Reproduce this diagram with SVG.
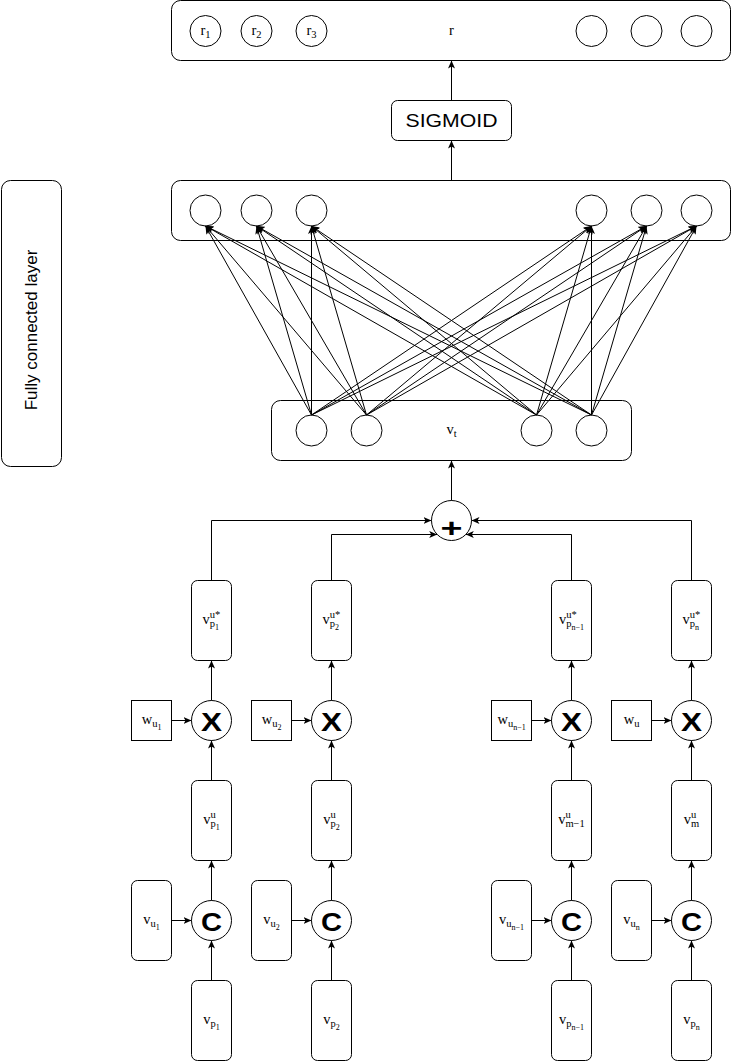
<svg xmlns="http://www.w3.org/2000/svg" width="738" height="1062" viewBox="0 0 738 1062">
  <defs>
    <marker id="ah" markerWidth="10" markerHeight="8" refX="8" refY="3.5" orient="auto" markerUnits="userSpaceOnUse">
      <path d="M0,0 L8,3.5 L0,7 L2,3.5 Z" fill="#000"/>
    </marker>
    <style>
      .box { fill: #fff; stroke: #000; stroke-width: 1; }
      .node { fill: #fff; stroke: #000; stroke-width: 1; }
      .edge { fill: none; stroke: #000; stroke-width: 1; marker-end: url(#ah); }
      .m { font-family: "Liberation Serif", "Times New Roman", serif; font-size: 14.5px; fill: #000; }
      .s { font-size: 10.5px; }
      .ss { font-size: 8px; }
      .sans { font-family: "Liberation Sans", Arial, Helvetica, sans-serif; fill: #000; }
      .op { font-family: "Liberation Sans", Arial, Helvetica, sans-serif; font-weight: bold; font-size: 25px; text-anchor: middle; fill: #000; }
    </style>
  </defs>

  <!-- side label -->
  <g id="fc-label">
    <rect class="box" x="1.5" y="180.5" width="60" height="286" rx="9"/>
    <text class="sans" x="36.5" y="330" font-size="17" text-anchor="middle" transform="rotate(-90 36.5 330)">Fully connected layer</text>
  </g>

  <!-- output layer r -->
  <g id="output">
    <rect class="box" x="171.5" y="0.5" width="559" height="60" rx="9"/>
    <circle class="node" cx="205.5" cy="31" r="15.5"/>
    <circle class="node" cx="256.5" cy="31" r="15.5"/>
    <circle class="node" cx="311.5" cy="31" r="15.5"/>
    <circle class="node" cx="591.5" cy="31" r="15.5"/>
    <circle class="node" cx="646.5" cy="31" r="15.5"/>
    <circle class="node" cx="696.5" cy="31" r="15.5"/>
    <text class="m" x="200.5" y="35">r<tspan class="s" y="38">1</tspan></text>
    <text class="m" x="251.5" y="35">r<tspan class="s" y="38">2</tspan></text>
    <text class="m" x="306.5" y="35">r<tspan class="s" y="38">3</tspan></text>
    <text class="m" x="449.1" y="35">r</text>
  </g>

  <!-- sigmoid -->
  <g id="sigmoid">
    <rect class="box" x="391.5" y="100.5" width="120" height="40" rx="6"/>
    <text class="sans" x="451.5" y="126.5" font-size="18.5" text-anchor="middle" textLength="92" lengthAdjust="spacingAndGlyphs">SIGMOID</text>
  </g>

  <!-- fully connected layer -->
  <g id="fc">
    <rect class="box" x="171.5" y="180.5" width="559" height="60" rx="9"/>
    <circle class="node" cx="205.5" cy="210.5" r="15.5"/>
    <circle class="node" cx="256.5" cy="210.5" r="15.5"/>
    <circle class="node" cx="311.5" cy="210.5" r="15.5"/>
    <circle class="node" cx="591.5" cy="210.5" r="15.5"/>
    <circle class="node" cx="646.5" cy="210.5" r="15.5"/>
    <circle class="node" cx="696.5" cy="210.5" r="15.5"/>
  </g>

  <!-- v_t layer -->
  <g id="vt">
    <rect class="box" x="271.5" y="400.5" width="360" height="60" rx="9"/>
    <circle class="node" cx="311.5" cy="430.5" r="15.5"/>
    <circle class="node" cx="366.5" cy="430.5" r="15.5"/>
    <circle class="node" cx="536.5" cy="430.5" r="15.5"/>
    <circle class="node" cx="591.5" cy="430.5" r="15.5"/>
    <text class="m" x="446.4" y="433.5">v<tspan class="s" y="437">t</tspan></text>
  </g>

  <!-- sum -->
  <g id="sum">
    <circle class="node" cx="451.5" cy="520.5" r="20"/>
    <text class="op" x="451.5" y="536.5" font-size="38" textLength="22" lengthAdjust="spacingAndGlyphs">+</text>
  </g>

  <!-- column 1 -->
  <g id="col1-vpstar">
    <rect class="box" x="191.5" y="580.5" width="40" height="80" rx="6"/>
    <text class="m" x="202.6" y="623.5">v<tspan class="s" x="209.85" y="618">u*</tspan><tspan class="s" x="209.85" y="627">p</tspan><tspan class="ss" y="630">1</tspan></text>
  </g>
  <g id="col1-w">
    <rect class="box" x="131.5" y="700.5" width="40" height="40"/>
    <text class="m" x="141.65" y="723.5">w<tspan class="s" y="727">u</tspan><tspan class="ss" y="730">1</tspan></text>
  </g>
  <g id="col1-mul">
    <circle class="node" cx="211.5" cy="720.5" r="20"/>
    <text class="op" x="211.5" y="731" textLength="21" lengthAdjust="spacingAndGlyphs">X</text>
  </g>
  <g id="col1-vpu">
    <rect class="box" x="191.5" y="780.5" width="40" height="80" rx="6"/>
    <text class="m" x="203.25" y="823.5">v<tspan class="s" x="210.5" y="818">u</tspan><tspan class="s" x="210.5" y="827">p</tspan><tspan class="ss" y="830">1</tspan></text>
  </g>
  <g id="col1-concat">
    <circle class="node" cx="211.5" cy="920.5" r="20"/>
    <text class="op" x="211.5" y="931" textLength="21" lengthAdjust="spacingAndGlyphs">C</text>
  </g>
  <g id="col1-vu">
    <rect class="box" x="131.5" y="880.5" width="40" height="80" rx="6"/>
    <text class="m" x="143.25" y="923.5">v<tspan class="s" y="927">u</tspan><tspan class="ss" y="930">1</tspan></text>
  </g>
  <g id="col1-vp">
    <rect class="box" x="191.5" y="980.5" width="40" height="80" rx="6"/>
    <text class="m" x="203.25" y="1023.5">v<tspan class="s" y="1027">p</tspan><tspan class="ss" y="1030">1</tspan></text>
  </g>

  <!-- column 2 -->
  <g id="col2-vpstar">
    <rect class="box" x="311.5" y="580.5" width="40" height="80" rx="6"/>
    <text class="m" x="322.6" y="623.5">v<tspan class="s" x="329.85" y="618">u*</tspan><tspan class="s" x="329.85" y="627">p</tspan><tspan class="ss" y="630">2</tspan></text>
  </g>
  <g id="col2-w">
    <rect class="box" x="251.5" y="700.5" width="40" height="40"/>
    <text class="m" x="261.65" y="723.5">w<tspan class="s" y="727">u</tspan><tspan class="ss" y="730">2</tspan></text>
  </g>
  <g id="col2-mul">
    <circle class="node" cx="331.5" cy="720.5" r="20"/>
    <text class="op" x="331.5" y="731" textLength="21" lengthAdjust="spacingAndGlyphs">X</text>
  </g>
  <g id="col2-vpu">
    <rect class="box" x="311.5" y="780.5" width="40" height="80" rx="6"/>
    <text class="m" x="323.25" y="823.5">v<tspan class="s" x="330.5" y="818">u</tspan><tspan class="s" x="330.5" y="827">p</tspan><tspan class="ss" y="830">2</tspan></text>
  </g>
  <g id="col2-concat">
    <circle class="node" cx="331.5" cy="920.5" r="20"/>
    <text class="op" x="331.5" y="931" textLength="21" lengthAdjust="spacingAndGlyphs">C</text>
  </g>
  <g id="col2-vu">
    <rect class="box" x="251.5" y="880.5" width="40" height="80" rx="6"/>
    <text class="m" x="263.25" y="923.5">v<tspan class="s" y="927">u</tspan><tspan class="ss" y="930">2</tspan></text>
  </g>
  <g id="col2-vp">
    <rect class="box" x="311.5" y="980.5" width="40" height="80" rx="6"/>
    <text class="m" x="323.25" y="1023.5">v<tspan class="s" y="1027">p</tspan><tspan class="ss" y="1030">2</tspan></text>
  </g>

  <!-- column n-1 -->
  <g id="col3-vpstar">
    <rect class="box" x="551.5" y="580.5" width="40" height="80" rx="6"/>
    <text class="m" x="559" y="623.5">v<tspan class="s" x="566.25" y="618">u*</tspan><tspan class="s" x="566.25" y="627">p</tspan><tspan class="ss" y="630">n−1</tspan></text>
  </g>
  <g id="col3-w">
    <rect class="box" x="491.5" y="700.5" width="40" height="40"/>
    <text class="m" x="497.4" y="723.5">w<tspan class="s" y="727">u</tspan><tspan class="ss" y="730">n−1</tspan></text>
  </g>
  <g id="col3-mul">
    <circle class="node" cx="571.5" cy="720.5" r="20"/>
    <text class="op" x="571.5" y="731" textLength="21" lengthAdjust="spacingAndGlyphs">X</text>
  </g>
  <g id="col3-vpu">
    <rect class="box" x="551.5" y="780.5" width="40" height="80" rx="6"/>
    <text class="m" x="558.2" y="823.5">v<tspan class="s" x="565.45" y="818">u</tspan><tspan class="s" x="565.45" y="827">m−1</tspan></text>
  </g>
  <g id="col3-concat">
    <circle class="node" cx="571.5" cy="920.5" r="20"/>
    <text class="op" x="571.5" y="931" textLength="21" lengthAdjust="spacingAndGlyphs">C</text>
  </g>
  <g id="col3-vu">
    <rect class="box" x="491.5" y="880.5" width="40" height="80" rx="6"/>
    <text class="m" x="499" y="923.5">v<tspan class="s" y="927">u</tspan><tspan class="ss" y="930">n−1</tspan></text>
  </g>
  <g id="col3-vp">
    <rect class="box" x="551.5" y="980.5" width="40" height="80" rx="6"/>
    <text class="m" x="559" y="1023.5">v<tspan class="s" y="1027">p</tspan><tspan class="ss" y="1030">n−1</tspan></text>
  </g>

  <!-- column n -->
  <g id="col4-vpstar">
    <rect class="box" x="671.5" y="580.5" width="40" height="80" rx="6"/>
    <text class="m" x="682.6" y="623.5">v<tspan class="s" x="689.85" y="618">u*</tspan><tspan class="s" x="689.85" y="627">p</tspan><tspan class="ss" y="630">n</tspan></text>
  </g>
  <g id="col4-w">
    <rect class="box" x="611.5" y="700.5" width="40" height="40"/>
    <text class="m" x="623.65" y="723.5">w<tspan class="s" y="727">u</tspan></text>
  </g>
  <g id="col4-mul">
    <circle class="node" cx="691.5" cy="720.5" r="20"/>
    <text class="op" x="691.5" y="731" textLength="21" lengthAdjust="spacingAndGlyphs">X</text>
  </g>
  <g id="col4-vpu">
    <rect class="box" x="671.5" y="780.5" width="40" height="80" rx="6"/>
    <text class="m" x="683.8" y="823.5">v<tspan class="s" x="691.05" y="818">u</tspan><tspan class="s" x="691.05" y="827">m</tspan></text>
  </g>
  <g id="col4-concat">
    <circle class="node" cx="691.5" cy="920.5" r="20"/>
    <text class="op" x="691.5" y="931" textLength="21" lengthAdjust="spacingAndGlyphs">C</text>
  </g>
  <g id="col4-vu">
    <rect class="box" x="611.5" y="880.5" width="40" height="80" rx="6"/>
    <text class="m" x="623.25" y="923.5">v<tspan class="s" y="927">u</tspan><tspan class="ss" y="930">n</tspan></text>
  </g>
  <g id="col4-vp">
    <rect class="box" x="671.5" y="980.5" width="40" height="80" rx="6"/>
    <text class="m" x="683.25" y="1023.5">v<tspan class="s" y="1027">p</tspan><tspan class="ss" y="1030">n</tspan></text>
  </g>

  <!-- connectors -->
  <g id="connectors">
    <path class="edge" d="M451.5,100.5 V60.5"/>
    <path class="edge" d="M451.5,180.5 V140.5"/>
    <path class="edge" d="M451.5,500.5 V460.5"/>

    <!-- dense links v_t -> fc -->
    <path class="edge" d="M311.5,415 L205.5,226"/>
    <path class="edge" d="M311.5,415 L256.5,226"/>
    <path class="edge" d="M311.5,415 L311.5,226"/>
    <path class="edge" d="M311.5,415 L591.5,226"/>
    <path class="edge" d="M311.5,415 L646.5,226"/>
    <path class="edge" d="M311.5,415 L696.5,226"/>
    <path class="edge" d="M366.5,415 L205.5,226"/>
    <path class="edge" d="M366.5,415 L256.5,226"/>
    <path class="edge" d="M366.5,415 L311.5,226"/>
    <path class="edge" d="M366.5,415 L591.5,226"/>
    <path class="edge" d="M366.5,415 L646.5,226"/>
    <path class="edge" d="M366.5,415 L696.5,226"/>
    <path class="edge" d="M536.5,415 L205.5,226"/>
    <path class="edge" d="M536.5,415 L256.5,226"/>
    <path class="edge" d="M536.5,415 L311.5,226"/>
    <path class="edge" d="M536.5,415 L591.5,226"/>
    <path class="edge" d="M536.5,415 L646.5,226"/>
    <path class="edge" d="M536.5,415 L696.5,226"/>
    <path class="edge" d="M591.5,415 L205.5,226"/>
    <path class="edge" d="M591.5,415 L256.5,226"/>
    <path class="edge" d="M591.5,415 L311.5,226"/>
    <path class="edge" d="M591.5,415 L591.5,226"/>
    <path class="edge" d="M591.5,415 L646.5,226"/>
    <path class="edge" d="M591.5,415 L696.5,226"/>

    <!-- into the sum -->
    <path class="edge" d="M211.5,580.5 V520.5 H431.5"/>
    <path class="edge" d="M331.5,580.5 V534.5 H437.2"/>
    <path class="edge" d="M571.5,580.5 V534.5 H465.8"/>
    <path class="edge" d="M691.5,580.5 V520.5 H471.5"/>

    <!-- column chains -->
    <path class="edge" d="M211.5,700.5 V660.5"/>
    <path class="edge" d="M171.5,720.5 H191.5"/>
    <path class="edge" d="M211.5,780.5 V740.5"/>
    <path class="edge" d="M211.5,900.5 V860.5"/>
    <path class="edge" d="M171.5,920.5 H191.5"/>
    <path class="edge" d="M211.5,980.5 V940.5"/>

    <path class="edge" d="M331.5,700.5 V660.5"/>
    <path class="edge" d="M291.5,720.5 H311.5"/>
    <path class="edge" d="M331.5,780.5 V740.5"/>
    <path class="edge" d="M331.5,900.5 V860.5"/>
    <path class="edge" d="M291.5,920.5 H311.5"/>
    <path class="edge" d="M331.5,980.5 V940.5"/>

    <path class="edge" d="M571.5,700.5 V660.5"/>
    <path class="edge" d="M531.5,720.5 H551.5"/>
    <path class="edge" d="M571.5,780.5 V740.5"/>
    <path class="edge" d="M571.5,900.5 V860.5"/>
    <path class="edge" d="M531.5,920.5 H551.5"/>
    <path class="edge" d="M571.5,980.5 V940.5"/>

    <path class="edge" d="M691.5,700.5 V660.5"/>
    <path class="edge" d="M651.5,720.5 H671.5"/>
    <path class="edge" d="M691.5,780.5 V740.5"/>
    <path class="edge" d="M691.5,900.5 V860.5"/>
    <path class="edge" d="M651.5,920.5 H671.5"/>
    <path class="edge" d="M691.5,980.5 V940.5"/>
  </g>
</svg>
